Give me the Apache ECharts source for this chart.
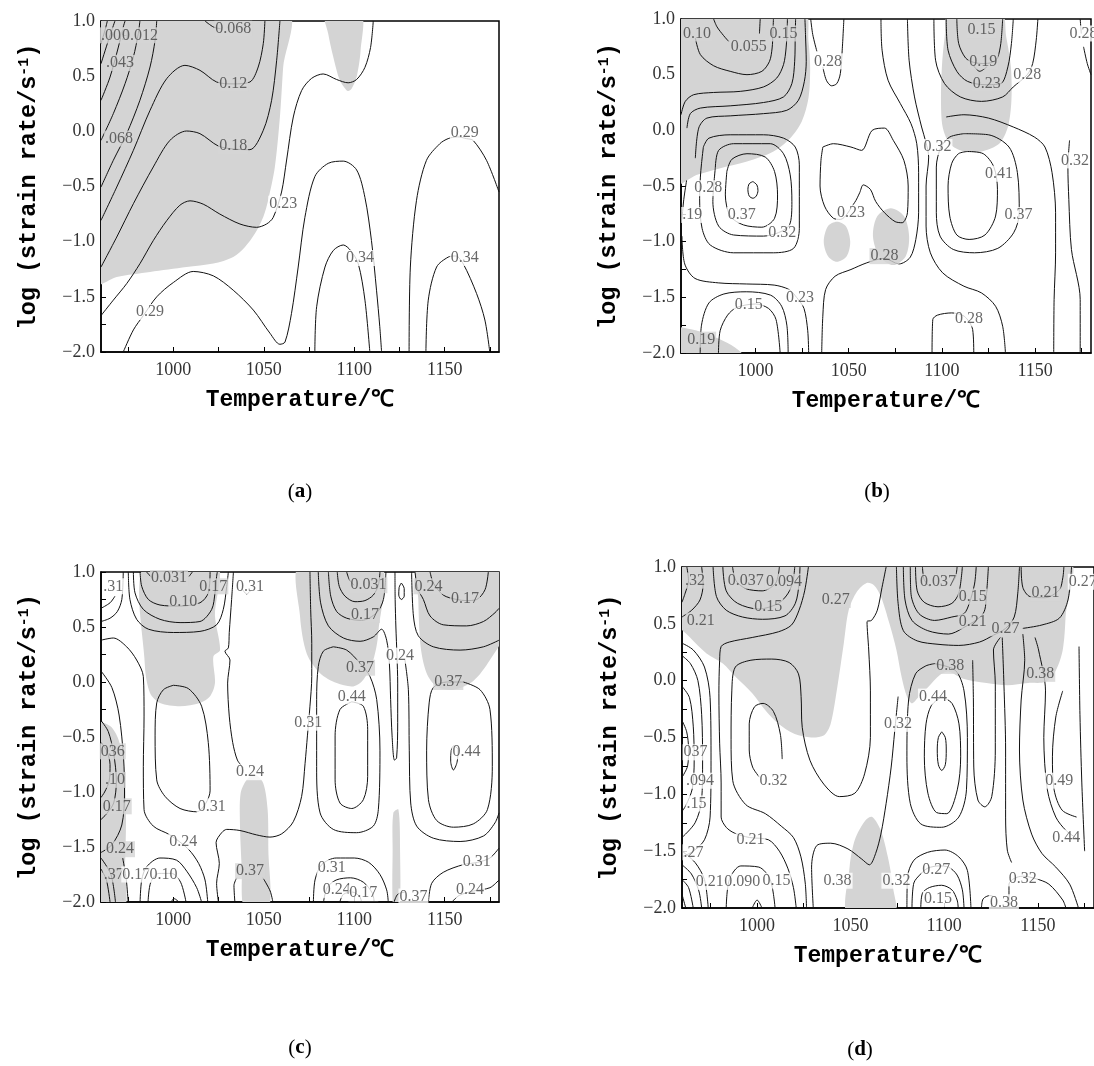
<!DOCTYPE html>
<html>
<head>
<meta charset="utf-8">
<style>
  html, body { margin: 0; padding: 0; background: #fff; }
  #chart-container { width: 1094px; height: 1066px; }
</style>
</head>
<body>
<div id="chart-container"></div>
<script src="https://fastly.jsdelivr.net/npm/echarts@6/dist/echarts.min.js"></script>
<script type="text/javascript">
// axis values shared by the four processing maps
var tempTicks = [975, 1000, 1025, 1050, 1075, 1100, 1125, 1150, 1175];
var tempLabels = [1000, 1050, 1100, 1150];
var captions = ['a', 'b', 'c', 'd'];

// ---------- (a) ----------
var shadeA = [
  [[957,1.08],[1063,1.08],[1060.7,0.583],[1058.9,0.13],[1056.1,-0.323],[1052.4,-0.625],[1049.7,-0.776],[1045.1,-0.927],[1039.6,-1.048],[1033.1,-1.139],[1022.1,-1.199],[1007.3,-1.23],[987.1,-1.275],[968.7,-1.32],[957,-1.38]],
  [[1083.8,1.08],[1103.6,1.08],[1103.5,0.734],[1101.3,0.492],[1098.5,0.387],[1096.6,0.366],[1095.7,0.372],[1092,0.462],[1088.4,0.674],[1085.6,0.885]]
];
var linesA = [
  [[960,0.795],[962.2,0.915],[963.5,1]],
  [[960,0.613],[964.1,0.825],[967.7,1]],
  [[960,0.281],[965,0.492],[969.6,0.764],[972.3,0.946],[973.3,1]],
  [[960,-0.082],[966.8,0.16],[973.3,0.432],[977.9,0.674],[980.6,0.885],[981.5,1]],
  [[960,-0.505],[966.8,-0.263],[974.2,-0.021],[981.5,0.281],[987.1,0.583],[989.9,0.825],[990.8,1]],
  [[960,-0.807],[968.7,-0.505],[977.9,-0.172],[987.1,0.19],[996.3,0.477],[1006.4,0.598],[1014.7,0.553],[1023.9,0.447],[1033,0.43],[1042.3,0.447],[1046.9,0.583],[1049.7,0.795],[1050.6,1]],
  [[960,-1.23],[968.7,-0.958],[977.9,-0.656],[988.9,-0.323],[998.1,-0.082],[1007.3,0.003],[1014.7,-0.021],[1024.8,-0.133],[1033,-0.16],[1042.3,-0.166],[1049.7,0.009],[1054.3,0.281],[1057.1,0.644],[1058.9,1]],
  [[960,-1.67],[966.8,-1.53],[974.2,-1.38],[981.5,-1.2],[988.9,-0.99],[996.3,-0.81],[1003.6,-0.67],[1009.2,-0.63],[1016.5,-0.66],[1025.7,-0.75],[1036.8,-0.84],[1046,-0.87],[1051.5,-0.84],[1055.2,-0.78],[1059.8,-0.55],[1062.6,-0.26],[1066.3,0.13],[1070.9,0.37],[1076.4,0.48],[1082.8,0.52],[1090.2,0.47],[1096.6,0.44],[1101.3,0.47],[1105.9,0.58],[1109,0.76],[1110.5,1]],
  [[972.3,-2],[977.9,-1.8],[983.4,-1.67],[990.8,-1.5],[1000,-1.37],[1011,-1.27],[1022.1,-1.31],[1033.1,-1.44],[1044.2,-1.62],[1053.4,-1.83],[1058.9,-1.93],[1061.7,-1.91],[1065.3,-1.65],[1069,-1.23],[1072.7,-0.78],[1078.2,-0.41],[1085.6,-0.29],[1093.9,-0.27],[1101.3,-0.35],[1105.9,-0.6],[1109.5,-0.99],[1112.3,-1.44],[1114.1,-1.77],[1115.1,-2]],
  [[1078.2,-2],[1079.2,-1.59],[1083.8,-1.23],[1088.4,-1.08],[1093.9,-1.03],[1098,-1.08],[1102.2,-1.2],[1105.9,-1.53],[1108.6,-2]],
  [[1130.3,-2],[1131,-1.23],[1134.4,-0.625],[1139.9,-0.263],[1147.3,-0.112],[1151.9,-0.066],[1157,-0.05],[1162,-0.066],[1165.7,-0.082],[1173.1,-0.263],[1180,-0.55]],
  [[1139.6,-2],[1140.9,-1.53],[1145.5,-1.23],[1151.9,-1.14],[1156,-1.13],[1160.2,-1.2],[1167.6,-1.47],[1172.2,-1.71],[1174.9,-2]],
  [[1017.5,1],[1022.1,0.946],[1026,0.93]]
];
var labelsA = [
  [1033.1,0.93,'0.068'],[967.7,0.87,'.009'],[981.5,0.87,'0.012'],[970.5,0.62,'.043'],[970,-0.066,'.068'],
  [1033.1,0.432,'0.12'],[1033.1,-0.133,'0.18'],[1060.7,-0.656,'0.23'],[1161.1,-0.015,'0.29'],
  [1103.1,-1.148,'0.34'],[1161.1,-1.148,'0.34'],[987.1,-1.637,'0.29']
];

// ---------- (b) ----------
var shadeB = [
  [[957,1.08],[1025.7,1.08],[1028.4,0.8],[1029.3,0.56],[1028.4,0.29],[1024.8,0.08],[1018.6,-0.07],[1009.6,-0.19],[995.4,-0.28],[981.1,-0.34],[968.6,-0.4],[957,-0.48]],
  [[1104,1.08],[1131.5,1.08],[1134.5,0.84],[1137,0.57],[1137.3,0.27],[1135.4,0.03],[1130.7,-0.12],[1121.2,-0.19],[1111.8,-0.19],[1104.2,-0.12],[1100.4,0.03],[1099.5,0.27],[1100,0.57],[1101.5,0.84]],
  [[1043.6,-0.82],[1048.4,-0.86],[1050.8,-1],[1048.9,-1.13],[1043.6,-1.18],[1038.9,-1.13],[1036.6,-1],[1038.9,-0.86]],
  [[1072.6,-0.7],[1079.6,-0.77],[1082.4,-0.95],[1080.6,-1.13],[1073.9,-1.21],[1066.4,-1.13],[1063,-0.95],[1065.4,-0.77]],
  [[957,-1.78],[966,-1.79],[975.5,-1.84],[985,-1.91],[992.6,-2],[995,-2.08],[957,-2.08]]
];
var linesB = [
  [[967.7,0.83],[970.4,0.68],[977.5,0.58],[986.4,0.53],[995.4,0.5],[1003.4,0.53],[1007.5,0.62],[1008.9,0.74],[1009.3,0.87],[1009.6,1]],
  [[977.5,1],[979.3,0.93],[982.9,0.85],[985.5,0.8]],
  [[1002.5,1],[1002.1,0.87]],
  [[960,0.14],[962.3,0.26],[966.8,0.32],[977.5,0.34],[991.8,0.35],[1004.3,0.39],[1011.4,0.47],[1015,0.59],[1016.4,0.74],[1017,0.93],[1017.1,1]],
  [[963.2,0.02],[965,0.15],[970.4,0.2],[986.4,0.22],[1004.3,0.25],[1015,0.3],[1019.5,0.42],[1021,0.62],[1021.3,0.86],[1021.5,1]],
  [[967.7,-0.25],[969.5,0.02],[973.9,0.11],[986.4,0.13],[1004.3,0.15],[1016.8,0.18],[1023,0.27],[1026.2,0.44],[1027.2,0.62],[1026.8,0.86],[1026.5,1]],
  [[1029.6,1],[1030.7,0.86],[1032.9,0.71]],
  [[1036.1,0.57],[1038,0.45],[1040.8,0.4],[1043.6,0.42],[1045.5,0.51],[1046.5,0.72],[1047.4,1]],
  [[998.6,-0.46],[1000.7,-0.49],[1001.3,-0.54],[1000.4,-0.59],[998.6,-0.61],[996.6,-0.59],[995.9,-0.53],[996.6,-0.48],[998.6,-0.46]],
  [[984.6,-0.37],[987.3,-0.26],[995.4,-0.21],[1005.2,-0.24],[1010.2,-0.37],[1011.8,-0.58],[1010.2,-0.79],[1003.4,-0.87],[993.6,-0.85],[986.4,-0.77],[983.8,-0.58],[984.6,-0.37]],
  [[978.4,-0.34],[980.2,-0.18],[988.2,-0.12],[1007.9,-0.12],[1015,-0.21],[1018.6,-0.4],[1019.5,-0.64],[1018.2,-0.85],[1004.3,-0.95],[988.2,-0.94],[980.2,-0.86],[977.1,-0.64],[978.4,-0.34]],
  [[972,-0.15],[971,-0.3],[970.4,-0.42],[970,-0.61],[971.3,-0.88],[975.7,-1.03],[988.2,-1.1],[1009.6,-1.1],[1020.4,-1.06],[1023.5,-0.88],[1023.5,-0.31],[1021.3,-0.15],[1015,-0.07],[1004.3,-0.04],[986.4,-0.04],[975,-0.07],[972,-0.15]],
  [[963,-0.45],[961.5,-0.62],[960.5,-0.8]],
  [[960.5,-0.95],[962,-1.2],[967.5,-1.33],[980,-1.37],[995,-1.38],[1010,-1.39],[1018,-1.43],[1022,-1.5],[1026,-1.6],[1028,-1.8],[1028.5,-2]],
  [[980.1,-2],[981,-1.8],[985,-1.66],[990,-1.59],[1000,-1.56],[1007,-1.6],[1011,-1.7],[1013.2,-2]],
  [[970.3,-2],[971,-1.75],[975,-1.55],[983,-1.47],[995,-1.45],[1008,-1.48],[1014,-1.58],[1016.8,-1.75],[1017.5,-2]],
  [[1067.3,1],[1067.9,0.72],[1071.1,0.45],[1077.7,0.24],[1083.4,0.06],[1086.5,-0.12],[1087.5,-0.38],[1087.5,-0.74],[1086,-0.98],[1083,-1.14],[1077,-1.2],[1069,-1.15],[1059.7,-1.19],[1051.2,-1.25],[1042.7,-1.31],[1037.6,-1.43],[1036.1,-1.67],[1035.5,-2]],
  [[1036.1,-0.15],[1041.8,-0.12],[1051.2,-0.15],[1056.9,-0.18],[1062.6,0],[1069.2,0.02],[1073.9,-0.09],[1079.6,-0.27],[1081.9,-0.5],[1081.5,-0.74],[1078.7,-0.83],[1074.9,-0.82],[1069.2,-0.74],[1064.5,-0.64],[1061.6,-0.53],[1057.8,-0.49],[1055.9,-0.56],[1053.1,-0.65],[1045.5,-0.8],[1041.8,-0.79],[1037,-0.68],[1034.6,-0.5],[1035.1,-0.27],[1036.1,-0.15]],
  [[1116.5,0.59],[1120.3,0.53],[1124.1,0.57]],
  [[1108,1],[1109,0.78],[1112.7,0.65],[1117,0.61],[1122,0.6],[1127,0.61],[1129.8,0.65],[1131.6,0.78],[1132.6,1]],
  [[1102.3,1],[1103.3,0.72],[1108,0.53],[1113.7,0.44],[1123.1,0.41],[1131.6,0.42],[1135.4,0.57],[1137.3,0.78],[1138.3,1]],
  [[1095.7,1],[1096.6,0.63],[1101.4,0.42],[1109.9,0.3],[1121.2,0.26],[1132.6,0.3],[1138.3,0.39],[1145.8,0.5],[1148.7,0.6],[1150.6,0.81],[1151.5,1]],
  [[1081.5,1],[1082.4,0.63],[1085.3,0.3],[1089.1,0.03],[1091.3,-0.1],[1092.9,-0.24],[1091.5,-0.5],[1091.5,-0.86],[1093.8,-1.1],[1100.4,-1.28],[1111.8,-1.4],[1121.2,-1.46],[1128.8,-1.58],[1132.6,-1.76],[1134.1,-2]],
  [[1102.3,0.12],[1111.8,0.14],[1125,0.11],[1138.3,0.03],[1149.6,-0.06],[1155.3,-0.15],[1159.1,-0.38],[1161,-0.74],[1161,-1.1],[1160.2,-1.52],[1160,-2]],
  [[1113.7,-0.19],[1122.2,-0.21],[1127.9,-0.33],[1129.8,-0.53],[1128.8,-0.77],[1123.1,-0.94],[1114.6,-0.98],[1108,-0.94],[1104.2,-0.77],[1103.3,-0.5],[1105.2,-0.3],[1108.9,-0.21],[1113.7,-0.19]],
  [[1111.8,-0.03],[1125,-0.04],[1136,-0.15],[1140.5,-0.38],[1141.5,-0.74],[1138.5,-0.92],[1130,-1.06],[1117.5,-1.1],[1106.1,-1.07],[1099,-0.95],[1097,-0.74],[1097,-0.33],[1099.5,-0.15],[1104.2,-0.06],[1111.8,-0.03]],
  [[1094.7,-2],[1095.1,-1.7],[1097.6,-1.66],[1105.2,-1.64],[1112,-1.67],[1116.5,-1.79],[1117.1,-2]],
  [[1168.5,-0.09],[1167.6,-0.33],[1168.1,-0.62],[1169.5,-1.07],[1174.2,-1.52],[1174.2,-2]],
  [[1176,0.75],[1178,0.6],[1180,0.5]],
  [[1174.2,1],[1174.8,0.87]]
];
var labelsB = [
  [968.6,0.87,'0.10'],[996.3,0.75,'0.055'],[1015,0.87,'0.15'],[1038.9,0.62,'0.28'],[1121.2,0.9,'0.15'],
  [1122.2,0.62,'0.19'],[1124.1,0.42,'0.23'],[1145.8,0.5,'0.28'],[1176,0.87,'0.28'],[1097.6,-0.15,'0.32'],
  [1171.4,-0.27,'0.32'],[1130.7,-0.39,'0.41'],[1141.1,-0.76,'0.37'],[974.6,-0.52,'0.28'],[966,-0.76,'.19'],
  [992.6,-0.76,'0.37'],[1014.3,-0.92,'0.32'],[1051.2,-0.74,'0.23'],[1069.2,-1.13,'0.28'],[1023.8,-1.5,'0.23'],
  [996.3,-1.57,'0.15'],[1114.6,-1.69,'0.28'],[970.8,-1.88,'0.19']
];

// ---------- (c) ----------
var shadeC = [
  [[957,-0.37],[965,-0.4],[969.6,-0.52],[972.7,-0.77],[973.8,-1.22],[973.3,-1.68],[972.7,-2.08],[957,-2.08]],
  [[984.3,1.08],[1023.9,1.08],[1023,0.6],[1025.8,0.29],[1022.1,0.23],[1023,-0.01],[1020.3,-0.13],[1014.7,-0.19],[1003.7,-0.22],[992.6,-0.19],[987.1,-0.1],[984.3,0.14]],
  [[1070,1.08],[1114.2,1.08],[1113.3,0.45],[1110.5,0.2],[1105,0.02],[1099.5,-0.04],[1090.3,-0.01],[1081.1,0.08],[1073.7,0.26],[1070,0.6]],
  [[1135.4,1.08],[1183,1.08],[1183,0.45],[1175,0.2],[1165.8,0.01],[1154.8,-0.07],[1145.6,-0.04],[1140,0.08],[1136.7,0.32],[1135.4,0.75]],
  [[1037.2,-1.01],[1040.5,-0.89],[1045.1,-0.84],[1049.7,-0.92],[1052.1,-1.16],[1052.5,-1.52],[1052.5,-2.08],[1039.6,-2.08],[1037.8,-1.68],[1036.8,-1.28]],
  [[1121.6,-1.19],[1124.4,-1.16],[1125.3,-1.52],[1124.9,-2.08],[1121.6,-2.08],[1121.2,-1.52]]
];
var linesC = [
  [[985.2,1],[988,0.95]],
  [[1008.7,0.96],[1010.5,1]],
  [[981.6,1],[982.5,0.87],[986.2,0.75],[992.6,0.7],[1003,0.69],[1014.7,0.72],[1019.3,0.81],[1020.3,1]],
  [[977.9,1],[978.8,0.81],[983.4,0.66],[992.6,0.57],[1003.7,0.54],[1014.7,0.55],[1021.2,0.66],[1023,0.81],[1023.9,0.96],[1024.3,1]],
  [[975.1,1],[976,0.75],[979.7,0.57],[986.2,0.48],[1000,0.45],[1014.7,0.46],[1023.9,0.52],[1027.6,0.66],[1029.5,0.87],[1030.4,1]],
  [[1038.3,0.84],[1040.5,0.8],[1042.7,0.83]],
  [[960,0.67],[965,0.72],[967.7,0.78]],
  [[960,0.55],[965,0.58],[969,0.64],[971.5,0.75],[972.3,1]],
  [[960,0.38],[966.8,0.4],[974.2,0.32],[979.7,0.2],[983.4,0.05],[983.8,-0.31],[983.4,-0.77],[983.8,-1.16],[988.9,-1.31],[998.1,-1.39],[1008.3,-1.52],[1014,-1.65],[1017.5,-1.8],[1019,-2]],
  [[1000,-0.03],[1008.3,-0.06],[1015.6,-0.22],[1019.3,-0.55],[1020.3,-0.99],[1012.9,-1.18],[1003.7,-1.15],[995.4,-1.04],[990.8,-0.89],[989.9,-0.49],[990.8,-0.19],[994.5,-0.07],[1000,-0.03]],
  [[1033.2,1],[1032.2,0.75],[1030.9,0.45],[1030.4,0.31],[1028.5,0.28],[1031.3,0.2],[1030,-0.01],[1030.9,-0.31],[1032.8,-0.55],[1035.4,-0.71],[1038.7,-0.78]],
  [[1024.9,-2],[1023.9,-1.83],[1025.4,-1.65],[1023.6,-1.46],[1026.7,-1.37],[1029.5,-1.34],[1036.8,-1.35],[1046,-1.39],[1053.4,-1.41],[1059.9,-1.38],[1066.3,-1.27],[1070.9,-1.04],[1072.8,-0.74],[1074.1,-0.49],[1075.5,-0.22],[1076.5,0.05],[1076.5,0.35],[1075.9,0.66],[1075.5,1]],
  [[1095.8,1],[1097.3,0.93],[1099.9,0.88]],
  [[1090.6,1],[1091.7,0.87],[1094.9,0.78],[1100.4,0.73],[1105.9,0.74],[1110.5,0.79],[1113.3,0.88],[1114.2,1]],
  [[1085.7,1],[1087,0.78],[1090.3,0.64],[1095.8,0.58],[1104,0.56],[1112.4,0.63],[1116.1,0.75],[1117.5,1]],
  [[1080.1,1],[1081.4,0.72],[1085.7,0.51],[1094,0.4],[1103.2,0.37],[1110.5,0.41],[1115.1,0.48],[1117.9,0.38],[1119.4,0.17],[1120.1,-0.16],[1120.9,-0.49],[1122.2,-0.71],[1123.4,-0.69],[1124,-0.37],[1124,-0.01],[1123.6,0.24],[1123,0.5],[1122.6,0.75],[1122.5,1]],
  [[1126,0.9],[1127.6,0.85],[1127.6,0.78],[1126,0.75],[1124.6,0.79],[1124.8,0.86],[1126,0.9]],
  [[1141.9,1],[1143.7,0.9],[1149.2,0.79],[1156.6,0.75],[1162,0.74],[1167.7,0.75],[1172.3,0.84],[1174.1,1]],
  [[1133.6,1],[1135,0.85],[1138.2,0.75],[1141.9,0.6],[1149.2,0.52],[1162.1,0.51],[1171.4,0.55],[1177.8,0.63],[1180,0.67]],
  [[1131.7,1],[1132.7,0.6],[1135.4,0.42],[1143.7,0.32],[1158.5,0.29],[1171.4,0.32],[1180,0.38]],
  [[1098.6,-0.18],[1105,-0.22],[1107.4,-0.43],[1107.4,-0.86],[1105,-1.07],[1098.6,-1.15],[1092.1,-1.1],[1089.4,-0.89],[1089.4,-0.49],[1092.1,-0.25],[1098.6,-0.18]],
  [[1088.4,0.32],[1095.8,0.29],[1103.2,0.17],[1108.7,0.05],[1112.4,-0.16],[1114.2,-0.62],[1113.3,-1.16],[1110.5,-1.31],[1101.3,-1.37],[1088.4,-1.34],[1081.1,-1.19],[1079.2,-0.77],[1079.2,-0.16],[1080.1,0.14],[1082.9,0.28],[1088.4,0.32]],
  [[1092,-2],[1094,-1.93],[1099,-1.91],[1103,-1.95],[1104,-2]],
  [[1083,-2],[1085,-1.87],[1090,-1.8],[1098,-1.78],[1105,-1.82],[1110,-1.92],[1111,-2]],
  [[1077.4,-2],[1078.3,-1.8],[1082,-1.66],[1090,-1.6],[1100,-1.6],[1108,-1.64],[1114.2,-1.75],[1117.9,-1.89],[1118.8,-2]],
  [[1122,-2],[1124,-1.93],[1128,-1.91]],
  [[1154.8,-0.58],[1157.4,-0.61],[1156.8,-0.73],[1154.8,-0.8],[1153.3,-0.72],[1153.6,-0.62],[1154.8,-0.58]],
  [[1160.3,0],[1169.5,-0.07],[1175,-0.25],[1176.3,-0.77],[1173.6,-1.16],[1165.8,-1.29],[1154.8,-1.32],[1145.6,-1.26],[1141,-1.07],[1140,-0.62],[1141.4,-0.19],[1143.7,-0.05],[1151.1,0],[1160.3,0]],
  [[1128,0.2],[1129.9,-0.07],[1130.4,-0.62],[1131.2,-1.1],[1134.5,-1.31],[1143.7,-1.42],[1158.5,-1.45],[1171.4,-1.4],[1177.8,-1.28],[1180,-1.19]],
  [[1180,-1.51],[1175,-1.6],[1168,-1.64],[1160.3,-1.66],[1149.2,-1.73],[1142.8,-1.83],[1141,-2]],
  [[1180,-1.8],[1175,-1.87],[1166,-1.9],[1158,-1.94],[1154,-2]],
  [[960,-0.55],[963,-0.62],[965,-0.75],[964.5,-0.9],[962,-1],[960,-1.05]],
  [[960,-0.35],[964,-0.45],[967,-0.65],[968.5,-0.9],[967,-1.1],[963,-1.2],[960,-1.25]],
  [[960,0.1],[966,-0.05],[970,-0.3],[972.5,-0.7],[973,-1],[971.5,-1.3],[966,-1.48],[960,-1.55]],
  [[960,-1.7],[963,-1.8],[965,-2]],
  [[960,-1.6],[965.5,-1.75],[968,-2]],
  [[981.6,-2],[982.5,-1.8],[985.2,-1.68],[992.6,-1.6],[1001.8,-1.62],[1007.4,-1.72],[1012.9,-1.87],[1015.6,-2]],
  [[986,-2],[987.5,-1.82],[992,-1.74],[999,-1.74],[1004,-1.82],[1007,-2]],
  [[998.5,-2],[1000.5,-1.97],[1003,-2]],
  [[972,-1.6],[974,-1.8],[975,-2]],
  [[1034,-2],[1033.5,-1.85],[1035,-1.78]],
  [[1049.5,-1.78],[1053.5,-1.9],[1055,-2]]
];
var labelsC = [
  [966.8,0.87,'.31'],[997.6,0.945,'0.031'],[1005.5,0.73,'0.10'],[1022.1,0.87,'0.17'],[1042.4,0.87,'0.31'],
  [1107.8,0.88,'0.031'],[1105.9,0.61,'0.17'],[1141,0.87,'0.24'],[1161.2,0.76,'0.17'],[1125.3,0.24,'0.24'],
  [1103.2,0.13,'0.37'],[1152,0,'0.37'],[1098.6,-0.13,'0.44'],[1074.6,-0.37,'0.31'],[1162.1,-0.63,'0.44'],
  [966.5,-0.63,'036'],[967.7,-0.89,'.10'],[968.7,-1.13,'0.17'],[970.5,-1.52,'0.24'],[1042.4,-0.82,'0.24'],
  [1021.2,-1.13,'0.31'],[1005.5,-1.45,'0.24'],[1042.4,-1.72,'0.37'],[967,-1.75,'.37'],[979.5,-1.75,'0.17'],
  [994.5,-1.75,'0.10'],[1087.5,-1.69,'0.31'],[1090.3,-1.89,'0.24'],[1105,-1.92,'0.17'],[1132.7,-1.95,'0.37'],
  [1167.7,-1.63,'0.31'],[1164,-1.89,'0.24']
];

// ---------- (d) ----------
var shadeD = [
  [[957,1.08],[1165.5,1.08],[1164.8,0.56],[1163.3,0.27],[1159.6,0.09],[1154.1,-0.01],[1144.8,-0.02],[1133.7,-0.04],[1122.6,-0.02],[1109.7,0.02],[1102.3,0.08],[1097.7,0.05],[1091.2,-0.06],[1086.5,-0.14],[1082.8,-0.2],[1080.1,-0.14],[1077.3,0.03],[1074.5,0.27],[1070.8,0.5],[1066.2,0.74],[1062.5,0.84],[1058.6,0.86],[1053.3,0.78],[1049,0.62],[1046.4,0.33],[1042.9,-0.06],[1039.4,-0.38],[1035.9,-0.48],[1029,-0.5],[1020.2,-0.47],[1011.5,-0.38],[1004.5,-0.26],[997.5,-0.11],[988.8,0.03],[981.8,0.15],[973.1,0.24],[964.3,0.38],[957,0.52]],
  [[1048.6,-2.08],[1049.5,-1.64],[1052.3,-1.4],[1057.9,-1.23],[1061.6,-1.2],[1066.2,-1.32],[1069.9,-1.55],[1072.7,-1.82],[1073.6,-2.08]]
];
var linesD = [
  [[987,1],[988.8,0.88],[994,0.81],[1002.8,0.79],[1009.7,0.85],[1011.5,0.94],[1012,1]],
  [[981.8,1],[983.6,0.79],[989.7,0.68],[1001,0.63],[1011.5,0.68],[1016.7,0.77],[1019.3,0.88],[1020.2,1]],
  [[976.6,1],[978.4,0.74],[983.6,0.62],[992.3,0.56],[1003,0.54],[1015,0.57],[1020.5,0.68],[1022.5,0.85],[1023,1]],
  [[1027.5,1],[1025.5,0.79],[1022.5,0.62],[1018.5,0.49],[1011.5,0.43],[997.5,0.38],[985.3,0.34],[980.9,0.3],[980.1,0.18],[979.7,-0.11],[980.1,-0.55],[980.9,-0.9],[980.9,-1.2],[983.6,-1.29],[987.9,-1.34],[996,-1.38],[1006.2,-1.4],[1012,-1.5],[1016.5,-1.65],[1019.5,-1.82],[1021,-2]],
  [[962.6,1],[963.5,0.88],[961.7,0.77],[960,0.69]],
  [[970.5,1],[971.3,0.85],[969.6,0.71],[965.2,0.62],[960.9,0.57],[960,0.56]],
  [[960,-0.35],[962.5,-0.45],[963.5,-0.6],[963,-0.75],[960,-0.85]],
  [[960,-0.05],[964,-0.15],[966,-0.4],[966.5,-0.7],[965.5,-0.95],[962,-1.1],[960,-1.15]],
  [[960,0.22],[964.5,0.15],[968.5,0],[970.5,-0.3],[971,-0.7],[970.5,-1.05],[967,-1.25],[960,-1.38]],
  [[960,0.33],[966,0.27],[972,0.12],[975,-0.15],[975.5,-0.7],[975,-1.2],[972,-1.4],[966,-1.5],[960,-1.55]],
  [[960,-1.62],[965,-1.7],[969,-1.85],[970.5,-2]],
  [[960,-1.75],[963.5,-1.82],[966,-2]],
  [[960,-1.88],[962,-2]],
  [[960,-1.5],[967,-1.6],[972,-1.75],[974,-2]],
  [[983.6,-2],[985.3,-1.75],[991.4,-1.63],[1001,-1.64],[1007.1,-1.75],[1009.7,-2]],
  [[997.5,-2],[1000.1,-1.93],[1002.7,-2]],
  [[1013.5,-0.69],[1012.5,-0.47],[1008.8,-0.27],[1003.3,-0.2],[998.7,-0.23],[995.9,-0.38],[995.9,-0.61],[997.7,-0.76],[1001.4,-0.85]],
  [[1026.5,-2],[1025.8,-1.78],[1023.5,-1.55],[1019.5,-1.38],[1013,-1.28],[1004.5,-1.17],[994,-1.09],[987.1,-0.88],[986.2,-0.52],[986.6,-0.09],[988.5,0.12],[996.8,0.18],[1007.9,0.19],[1017.2,0.16],[1022.2,0.06],[1023.6,-0.14],[1024.2,-0.41],[1028.3,-0.7],[1035.7,-0.91],[1044,-1.02],[1052.3,-0.99],[1057.5,-0.82],[1060.6,-0.5],[1060.6,-0.09],[1059.7,0.27],[1058.8,0.52],[1061.2,0.53],[1064.3,0.62],[1066.8,0.82],[1069,1]],
  [[1098.7,-0.45],[1100.6,-0.5],[1101.1,-0.61],[1100.6,-0.74],[1098.7,-0.79],[1096.9,-0.74],[1096.3,-0.61],[1096.9,-0.5],[1098.7,-0.45]],
  [[1098.7,-0.14],[1104.2,-0.2],[1107.9,-0.38],[1108.8,-0.67],[1107,-0.96],[1101.4,-1.17],[1095.9,-1.16],[1091.3,-0.99],[1089.4,-0.67],[1090.3,-0.38],[1093.1,-0.22],[1098.7,-0.14]],
  [[1094.9,0.15],[1106,0.09],[1110.6,-0.09],[1112.4,-0.5],[1111.9,-0.96],[1107.8,-1.2],[1098.6,-1.29],[1087.5,-1.26],[1081.9,-1.08],[1080.1,-0.67],[1081,-0.17],[1084.7,0.06],[1090.2,0.13],[1094.9,0.15]],
  [[1130,0.38],[1126.3,0.27],[1127.3,-0.03],[1127.3,-0.61],[1125.4,-1.02],[1121.7,-1.11],[1118,-1.05],[1115.8,-0.76],[1115.6,-0.17],[1115.2,0.18]],
  [[1131,0.38],[1131.9,-0.03],[1132.8,-0.61],[1132.8,-1.2],[1133.7,-1.49],[1136,-1.6]],
  [[1142,0.41],[1143,0.18],[1141.1,-0.17],[1140.2,-0.61],[1142,-1.05],[1146.7,-1.35],[1152.2,-1.52],[1159.6,-1.64],[1167,-1.79],[1171.7,-2]],
  [[1148.5,0.38],[1150.4,0.27],[1154.1,-0.09],[1153.2,-0.5],[1155.1,-0.96],[1159.6,-1.2],[1165.2,-1.32],[1172,-1.4]],
  [[1163.3,-0.09],[1159.6,-0.32],[1157.8,-0.67],[1158.7,-0.96],[1163,-1.14],[1170.7,-1.2]],
  [[1172,0.3],[1172.5,-0.3],[1173.5,-0.9],[1175,-1.5]],
  [[1088.4,1],[1089.3,0.89],[1092.1,0.83]],
  [[1103.2,0.84],[1106,0.91],[1106.9,1]],
  [[1084.7,1],[1085.6,0.79],[1089.3,0.69],[1096.7,0.65],[1104.1,0.68],[1107.8,0.77],[1109.7,1]],
  [[1081.9,1],[1082.3,0.76],[1086.5,0.59],[1094.9,0.53],[1104.1,0.56],[1110.6,0.59],[1113.4,0.68],[1116.2,0.85],[1117.1,1]],
  [[1078.2,1],[1079.1,0.71],[1082.8,0.53],[1091.2,0.44],[1102.3,0.41],[1109.7,0.46],[1120.8,0.59],[1122.6,0.77],[1123.6,1]],
  [[1074.5,1],[1075.4,0.68],[1078.2,0.44],[1085.6,0.35],[1096.7,0.32],[1107.8,0.31],[1118.9,0.34],[1126.3,0.4],[1132.8,0.46],[1137.4,0.56],[1139.3,0.77],[1140.2,1]],
  [[1141.1,1],[1142,0.82],[1145.8,0.74],[1154,0.73],[1161.5,0.8],[1163.4,0.91],[1163.9,1]],
  [[1142,0.46],[1152.2,0.49],[1161.5,0.55],[1166.1,0.71],[1168,1]],
  [[1087.5,-2],[1088.4,-1.87],[1092.1,-1.82],[1098.6,-1.8],[1104.1,-1.84],[1106.9,-1.93],[1107.5,-2]],
  [[1082.8,-2],[1083.8,-1.78],[1087.5,-1.7],[1091.2,-1.65],[1097,-1.63],[1102.3,-1.64],[1106.9,-1.71],[1109.7,-1.84],[1110.6,-2]],
  [[1080.1,-2],[1080.4,-1.73],[1083.8,-1.58],[1091.2,-1.51],[1100.4,-1.49],[1107.8,-1.55],[1112.4,-1.67],[1114.3,-2]],
  [[1030.1,-2],[1029.2,-1.64],[1032,-1.45],[1039.4,-1.43],[1048.6,-1.48],[1056,-1.57],[1060.1,-1.62],[1063.4,-1.52],[1066.2,-1.35],[1069,-1.08],[1071.7,-0.76],[1073.6,-0.44],[1075.4,-0.14]],
  [[1134.6,-2],[1134.6,-1.79],[1137.4,-1.74],[1142,-1.72],[1148.5,-1.74],[1155.9,-1.79],[1163.3,-1.93],[1165,-2]],
  [[1119.9,-2],[1120.8,-1.92],[1124.5,-1.89],[1126.3,-1.9]]
];
var labelsD = [
  [967,0.88,'.32'],[994,0.88,'0.037'],[1014.4,0.87,'0.094'],[1006.1,0.65,'0.15'],[970,0.53,'0.21'],
  [1042.1,0.71,'0.27'],[1096.7,0.87,'0.037'],[1115.2,0.74,'0.15'],[1115.2,0.52,'0.21'],[1132.8,0.46,'0.27'],
  [1154.1,0.77,'0.21'],[1174,0.87,'0.27'],[1103.2,0.13,'0.38'],[1151.3,0.06,'0.38'],[1094,-0.14,'0.44'],
  [1075.4,-0.38,'0.32'],[967.2,-0.63,'037'],[969.6,-0.88,'.094'],[967.8,-1.08,'.15'],[1008.8,-0.88,'0.32'],
  [1161.5,-0.88,'0.49'],[996.6,-1.4,'0.21'],[1165.2,-1.38,'0.44'],[966.1,-1.51,'.27'],[1095.8,-1.66,'0.27'],
  [974.8,-1.77,'0.21'],[992.2,-1.77,'0.090'],[1010.5,-1.76,'0.15'],[1043.1,-1.76,'0.38'],[1074.5,-1.76,'0.32'],
  [1142,-1.74,'0.32'],[1096.7,-1.92,'0.15'],[1131.9,-1.95,'0.38']
];

var panels = [
  { shades: shadeA, lines: linesA, labels: labelsA },
  { shades: shadeB, lines: linesB, labels: labelsB },
  { shades: shadeC, lines: linesC, labels: labelsC },
  { shades: shadeD, lines: linesD, labels: labelsD }
];

// plot boxes of the four maps
var boxes = [
  { left: 101, top: 21, width: 398, height: 331 },
  { left: 681, top: 19, width: 410, height: 334 },
  { left: 101, top: 572, width: 398, height: 330 },
  { left: 682, top: 567, width: 419, height: 341 }
];
var captionPos = [[300, 492], [877, 492], [300, 1048], [860, 1050]];

var SHADE = '#d4d4d4';
var serif = 'Liberation Serif';
var mono = 'Liberation Mono';

// is a label sitting inside one of the grey (unstable) zones
function insidePoly(pt, poly) {
  var c = false;
  for (var i = 0, j = poly.length - 1; i < poly.length; j = i++) {
    var xi = poly[i][0], yi = poly[i][1], xj = poly[j][0], yj = poly[j][1];
    if ((yi > pt[1]) !== (yj > pt[1]) && pt[0] < (xj - xi) * (pt[1] - yi) / (yj - yi) + xi) c = !c;
  }
  return c;
}

var dom = document.getElementById('chart-container');
var myChart = echarts.init(dom, null, { renderer: 'canvas', width: 1094, height: 1066 });

var grids = [], xAxes = [], yAxes = [], series = [], graphics = [];

panels.forEach(function (p, i) {
  grids.push(Object.assign({ show: true, borderColor: '#000', borderWidth: 1.5, backgroundColor: '#fff' }, boxes[i]));

  xAxes.push({
    type: 'value', gridIndex: i, min: 960, max: 1180,
    name: 'Temperature/℃', nameLocation: 'middle', nameGap: 37,
    nameTextStyle: { fontFamily: mono, fontWeight: 'bold', fontSize: 23, color: '#000' },
    axisLine: { show: true, onZero: false, lineStyle: { color: '#000', width: 1.5 } },
    axisTick: { show: true, inside: true, length: 5, customValues: tempTicks, lineStyle: { color: '#000' } },
    axisLabel: {
      customValues: tempLabels, fontFamily: serif, fontSize: 18, color: '#333', margin: 9,
      formatter: function (v) { return String(v); }
    },
    splitLine: { show: false }
  });

  yAxes.push({
    type: 'value', gridIndex: i, min: -2, max: 1, interval: 0.5,
    name: 'log (strain rate/s{s|-1})', nameLocation: 'middle', nameGap: 59, nameRotate: 90,
    nameTextStyle: {
      fontFamily: mono, fontWeight: 'bold', fontSize: 23.5, color: '#000',
      rich: { s: { fontFamily: mono, fontWeight: 'bold', fontSize: 15, color: '#000', verticalAlign: 'top', padding: [0, 0, 10, 0] } }
    },
    axisLine: { show: true, onZero: false, lineStyle: { color: '#000', width: 1.5 } },
    axisTick: { show: true, inside: true, length: 5, lineStyle: { color: '#000' } },
    minorTick: { show: true, splitNumber: 2, length: 5, lineStyle: { color: '#000' } },
    axisLabel: {
      fontFamily: serif, fontSize: 18, color: '#333', margin: 6,
      formatter: function (v) { return v.toFixed(1).replace('-', '\u2212'); }
    },
    splitLine: { show: false }
  });

  // grey instability zones
  series.push({
    type: 'custom', xAxisIndex: i, yAxisIndex: i, z: 1, silent: true, clip: true,
    data: p.shades.map(function (poly) { return poly[0]; }),
    renderItem: function (params, api) {
      var cs = params.coordSys;
      return {
        type: 'polygon',
        shape: { points: p.shades[params.dataIndex].map(function (pt) { return api.coord(pt); }), smooth: 0.3 },
        style: { fill: SHADE },
        clipPath: { type: 'rect', shape: { x: cs.x, y: cs.y, width: cs.width, height: cs.height } }
      };
    }
  });

  // iso-efficiency contour lines
  p.lines.forEach(function (pts) {
    series.push({
      type: 'line', xAxisIndex: i, yAxisIndex: i, z: 2, silent: true,
      data: pts, symbol: 'none', smooth: 0.3,
      lineStyle: { color: '#111', width: 1 }
    });
  });

  // contour labels
  series.push({
    type: 'scatter', xAxisIndex: i, yAxisIndex: i, z: 3, silent: true,
    symbolSize: 1, itemStyle: { color: 'rgba(0,0,0,0)' },
    data: p.labels.map(function (l) {
      var grey = p.shades.some(function (poly) { return insidePoly([l[0], l[1]], poly); });
      return { value: [l[0], l[1]], name: l[2], label: { backgroundColor: grey ? SHADE : '#fff' } };
    }),
    label: {
      show: true, position: 'inside', formatter: function (d) { return d.name; },
      fontFamily: serif, fontSize: 16, color: '#444', padding: [0, 1]
    }
  });

  graphics.push({
    type: 'text', x: captionPos[i][0], y: captionPos[i][1],
    style: {
      text: '{p|(}{l|' + captions[i] + '}{p|)}', align: 'center', verticalAlign: 'middle',
      rich: {
        p: { fontFamily: serif, fontSize: 21, color: '#000' },
        l: { fontFamily: serif, fontSize: 21, fontWeight: 'bold', color: '#000' }
      }
    }
  });
});

var option = {
  backgroundColor: '#fff',
  animation: false,
  grid: grids,
  xAxis: xAxes,
  yAxis: yAxes,
  series: series,
  graphic: graphics
};

myChart.setOption(option);
window.addEventListener('resize', myChart.resize);
</script>
</body>
</html>
